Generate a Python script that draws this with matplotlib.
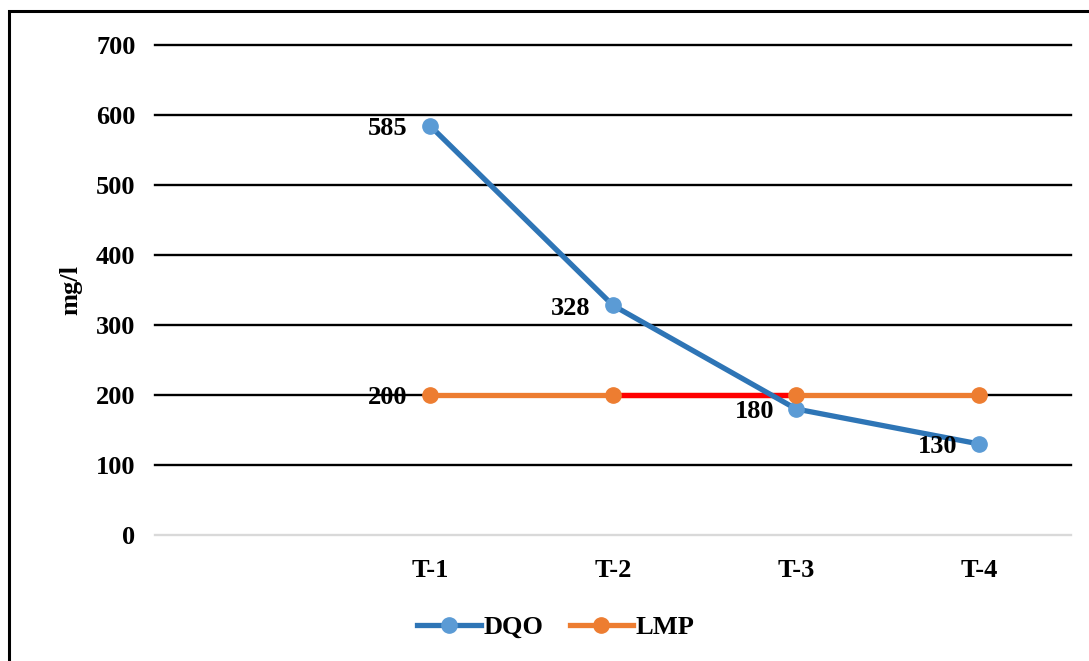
import matplotlib.pyplot as plt
from matplotlib.lines import Line2D
from matplotlib.patches import Rectangle

plt.rcParams["font.family"] = ["Liberation Serif", "DejaVu Serif"]
plt.rcParams["font.weight"] = "bold"

categories = ["", "T-1", "T-2", "T-3", "T-4"]
dqo = [None, 585, 328, 180, 130]
lmp = [None, 200, 200, 200, 200]
yticks = [0, 100, 200, 300, 400, 500, 600, 700]
# LMP segment highlighted in red (from T-2 to T-3)
red_from, red_to = 2, 3

blue_line = "#2e75b6"
blue_marker = "#5b9bd5"
orange = "#ed7d31"
fs = 19
lw = 3.8

fig = plt.figure(figsize=(10.89, 6.61), dpi=100)
ax = fig.add_axes([155 / 1089, 1 - 535 / 661, (1071 - 155) / 1089, 490 / 661])

x = list(range(len(categories)))
xd = [i for i, v in zip(x, dqo) if v is not None]
yd = [v for v in dqo if v is not None]
xl = [i for i, v in zip(x, lmp) if v is not None]
yl = [v for v in lmp if v is not None]

ax.plot(xl, yl, color=orange, lw=lw, solid_capstyle="round", zorder=3)
ax.plot([red_from, red_to], [lmp[red_from], lmp[red_to]], color="#ff0000", lw=lw, zorder=3.5)
ax.plot(xd, yd, color=blue_line, lw=lw, solid_capstyle="round", zorder=4)
ax.plot(xd, yd, "o", color=blue_marker, ms=11, zorder=5)
ax.plot(xl, yl, "o", color=orange, ms=11, zorder=6)

labels = [(xi, yi) for xi, yi in zip(xd, yd)] + [(xl[0], yl[0])]
for xi, yi in labels:
    ax.annotate(str(yi), (xi, yi), xytext=(-16, -2), textcoords="offset points",
                ha="right", va="center", fontsize=fs, fontweight="bold", zorder=7)

for v in yticks:
    ax.axhline(v, color="black" if v else "#d9d9d9", lw=1.7, zorder=1, clip_on=False)

ax.set_xlim(-0.5, len(categories) - 0.5)
ax.set_ylim(0, 700)
ax.set_yticks(yticks)
ax.set_xticks(x)
ax.set_xticklabels(categories)
ax.tick_params(length=0, labelsize=fs)
ax.tick_params(axis="x", pad=17)
ax.tick_params(axis="y", pad=14)
for s in ax.spines.values():
    s.set_visible(False)
ax.set_ylabel("mg/l", fontsize=fs, fontweight="bold", labelpad=10)

handles = [
    Line2D([], [], color=blue_line, lw=lw, marker="o", ms=11, mfc=blue_marker, mec=blue_marker),
    Line2D([], [], color=orange, lw=lw, marker="o", ms=11),
]
fig.legend(handles, ["DQO", "LMP"], loc="center", bbox_to_anchor=(556 / 1089, 1 - 627 / 661),
           ncol=2, frameon=False, handlelength=2.4, columnspacing=1.0,
           handletextpad=0.1, prop={"weight": "bold", "size": fs})

fig.patches.append(Rectangle((9 / 1089, -0.1), 1.2, 1.1 - 11 / 661, transform=fig.transFigure,
                             fill=False, edgecolor="black", lw=2.2))

fig.savefig("out.png", dpi=100)
